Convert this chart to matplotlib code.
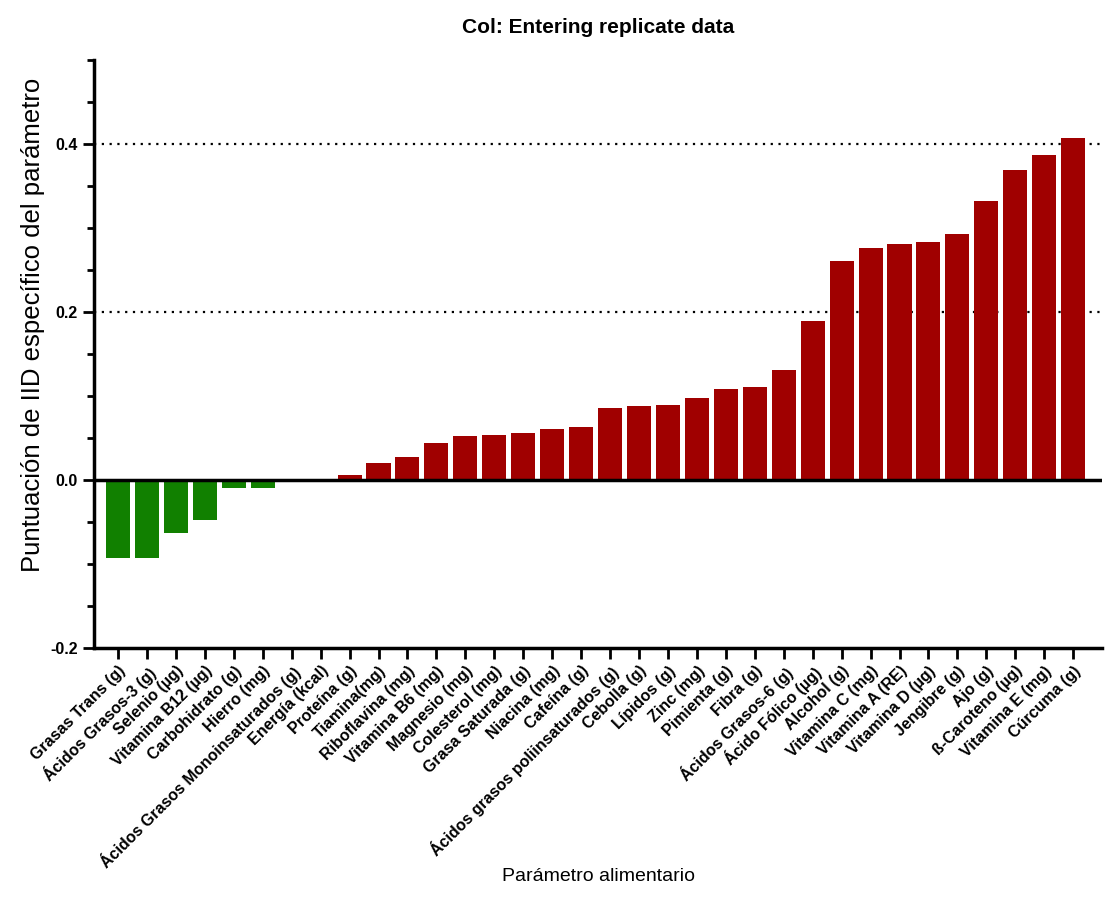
import matplotlib
matplotlib.use("Agg")
import matplotlib.pyplot as plt
from matplotlib.ticker import MultipleLocator

plt.rcParams['font.family'] = ['Liberation Sans', 'DejaVu Sans']

categories = [
    "Grasas Trans (g)", "Ácidos Grasos-3 (g)", "Selenio (µg)", "Vitamina B12 (µg)",
    "Carbohidrato (g)", "Hierro (mg)", "Ácidos Grasos Monoinsaturados (g)",
    "Energía (kcal)", "Proteína (g)", "Tiamina(mg)", "Riboflavina (mg)",
    "Vitamina B6 (mg)", "Magnesio (mg)", "Colesterol (mg)", "Grasa Saturada (g)",
    "Niacina (mg)", "Cafeína (g)", "Ácidos grasos poliinsaturados (g)",
    "Cebolla (g)", "Lípidos (g)", "Zinc (mg)", "Pimienta (g)", "Fibra (g)",
    "Ácidos Grasos-6 (g)", "Ácido Fólico (µg)", "Alcohol (g)", "Vitamina C (mg)",
    "Vitamina A (RE)", "Vitamina D (µg)", "Jengibre (g)", "Ajo (g)",
    "ß-Caroteno (µg)", "Vitamina E (mg)", "Cúrcuma (g)",
]
values = [
    -0.093, -0.093, -0.063, -0.048, -0.010, -0.010, 0.0, 0.0,
    0.006, 0.020, 0.027, 0.044, 0.052, 0.054, 0.056, 0.061, 0.063,
    0.086, 0.088, 0.089, 0.098, 0.108, 0.111, 0.131, 0.189,
    0.261, 0.276, 0.281, 0.283, 0.293, 0.332, 0.369, 0.387, 0.407,
]

red = "#A00000"
green = "#118000"
colors = [green if v < 0 else red for v in values]

fig = plt.figure(figsize=(11.11, 9), dpi=100)
ax = fig.add_axes([0.0846, 0.28, 0.9074, 0.653])

x = list(range(len(categories)))
ax.bar(x, values, width=0.83, color=colors, zorder=2)

ax.set_xlim(-0.83, 34.0)
ax.set_ylim(-0.2, 0.5)

for yv in (0.2, 0.4):
    ax.axhline(yv, color="black", linestyle=(0, (1, 2.5)), linewidth=1.6, zorder=1)
ax.axhline(0.0, color="black", linewidth=2.5, zorder=3)

for s in ("top", "right"):
    ax.spines[s].set_visible(False)
ax.spines["left"].set_linewidth(2.5)
ax.spines["bottom"].set_linewidth(2.5)

ax.set_yticks([-0.2, 0.0, 0.2, 0.4])
ax.set_yticklabels(["-0.2", "0.0", "0.2", "0.4"])
ax.yaxis.set_minor_locator(MultipleLocator(0.05))
ax.tick_params(axis="y", which="major", length=8, width=2, labelsize=11.5, direction="out")
ax.tick_params(axis="y", which="minor", length=5, width=2, direction="out")
for lab in ax.get_yticklabels():
    lab.set_fontweight("bold")

ax.set_xticks(x)
ax.set_xticklabels(categories, rotation=45, ha="right", va="top",
                   rotation_mode="anchor", fontsize=11.5, fontweight="bold")
ax.tick_params(axis="x", which="major", length=8, width=2, direction="out", pad=3)

ax.set_ylabel("Puntuación de IID específico del parámetro", fontsize=18.5)
ax.yaxis.set_label_coords(-0.049, 0.549)
ax.set_xlabel("Parámetro alimentario", fontsize=14)
ax.xaxis.set_label_coords(0.5, -0.375)
ax.set_title("Col: Entering replicate data", fontsize=15, fontweight="bold", pad=20)

fig.savefig("out.png", dpi=100)
